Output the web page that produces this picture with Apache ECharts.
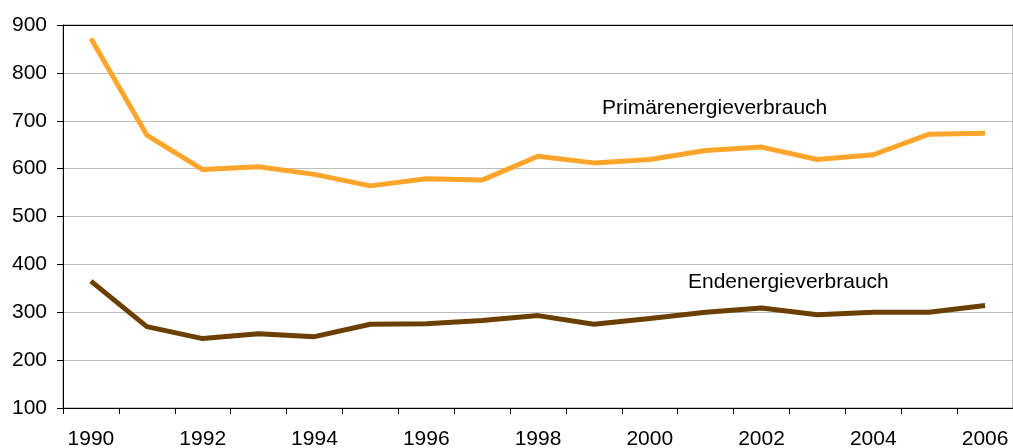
<!DOCTYPE html>
<html>
<head>
<meta charset="utf-8">
<script src="https://cdn.jsdelivr.net/npm/echarts@6/dist/echarts.min.js"></script>
<style>
  html, body { margin: 0; padding: 0; background: #fff; }
  #chart { width: 1013px; height: 448px; }
</style>
</head>
<body>
<div id="chart"></div>
<script>
const years = ['1990', '1991', '1992', '1993', '1994', '1995', '1996', '1997', '1998',
  '1999', '2000', '2001', '2002', '2003', '2004', '2005', '2006']
const primaer = [872, 670, 598, 604, 588, 564, 579, 576, 626, 612, 619, 638, 645, 619, 629, 672, 674]
const endenergie = [365, 270, 245, 255, 249, 275, 276, 283, 293, 275, 287, 300, 309, 295, 300, 300, 314]
const seriesNames = ['Primärenergieverbrauch', 'Endenergieverbrauch']

const font = '"Liberation Sans", Arial, sans-serif'
// gridlines are light grey, the top one (900) is dark
const gridColors = ['#000', '#bdbdbd', '#bdbdbd', '#bdbdbd', '#bdbdbd', '#bdbdbd', '#bdbdbd', '#bdbdbd', '#000']
const myChart = echarts.init(document.getElementById('chart'))

myChart.setOption({
  animation: false,
  backgroundColor: '#fff',
  grid: {
    left: 63,
    right: 0,
    top: 25,
    bottom: 40,
    outerBoundsMode: 'none',
    show: true,
    borderColor: '#8c8c8c',
    borderWidth: 1,
  },
  xAxis: {
    type: 'category',
    boundaryGap: true,
    data: years,
    axisLine: { lineStyle: { color: '#000', width: 1 } },
    axisTick: { show: true, interval: 0, length: 6, lineStyle: { color: '#000' } },
    axisLabel: {
      interval: 1,
      margin: 21,
      color: '#000',
      fontSize: 21,
      fontFamily: font,
    },
    splitLine: { show: false },
  },
  yAxis: {
    type: 'value',
    min: 100,
    max: 900,
    interval: 100,
    axisLine: { show: true, lineStyle: { color: '#000', width: 1 } },
    axisTick: { show: true, length: 6, lineStyle: { color: '#000' } },
    axisLabel: {
      margin: 16,
      color: '#000',
      fontSize: 21,
      fontFamily: font,
    },
    splitLine: { show: true, lineStyle: { color: gridColors, width: 1 } },
  },
  series: [
    {
      name: seriesNames[0],
      type: 'line',
      data: primaer,
      showSymbol: false,
      lineStyle: { color: '#ffa52b', width: 5 },
      itemStyle: { color: '#ffa52b' },
    },
    {
      name: seriesNames[1],
      type: 'line',
      data: endenergie,
      showSymbol: false,
      lineStyle: { color: '#6b3f00', width: 5 },
      itemStyle: { color: '#6b3f00' },
    },
  ],
  graphic: [
    {
      type: 'text',
      left: 602,
      top: 98,
      style: { text: seriesNames[0], fontSize: 21, fontFamily: font, fill: '#000' },
    },
    {
      type: 'text',
      left: 688,
      top: 272,
      style: { text: seriesNames[1], fontSize: 21, fontFamily: font, fill: '#000' },
    },
  ],
})
</script>
</body>
</html>
